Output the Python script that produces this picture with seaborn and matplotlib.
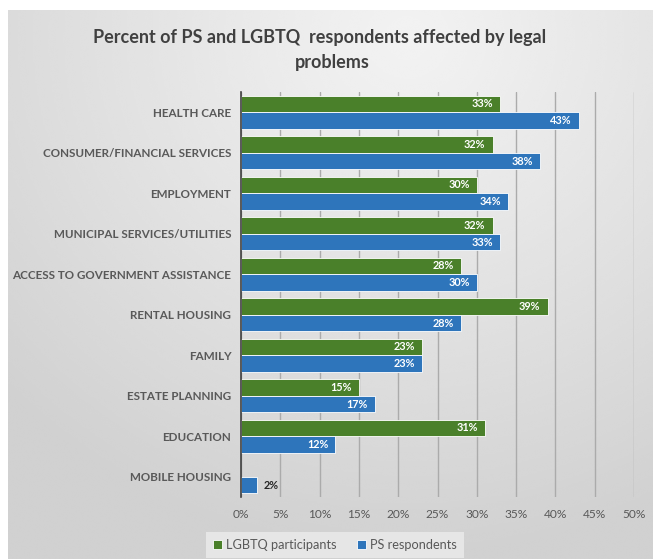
import numpy as np
import pandas as pd
import matplotlib
matplotlib.use("Agg")
import matplotlib.pyplot as plt
import seaborn as sns

# Survey results: share of respondents affected, by problem area
categories = [
    "HEALTH CARE",
    "CONSUMER/FINANCIAL SERVICES",
    "EMPLOYMENT",
    "MUNICIPAL SERVICES/UTILITIES",
    "ACCESS TO GOVERNMENT ASSISTANCE",
    "RENTAL HOUSING",
    "FAMILY",
    "ESTATE PLANNING",
    "EDUCATION",
    "MOBILE HOUSING",
]
lgbtq_pct = [33, 32, 30, 32, 28, 39, 23, 15, 31, None]
ps_pct = [43, 38, 34, 33, 30, 28, 23, 17, 12, 2]
series_names = ["LGBTQ participants", "PS respondents"]
x_ticks = [0, 5, 10, 15, 20, 25, 30, 35, 40, 45, 50]

GREEN = "#4a802a"
BLUE = "#2e75bb"
TEXT = "#595959"

rows = []
for cat, g, b in zip(categories, lgbtq_pct, ps_pct):
    if g is not None:
        rows.append((cat, series_names[0], g))
    if b is not None:
        rows.append((cat, series_names[1], b))
df = pd.DataFrame(rows, columns=["category", "series", "pct"])

sns.set_theme(style="white")
plt.rcParams["font.family"] = ["Lato", "DejaVu Sans"]

W, H = 653, 559
fig = plt.figure(figsize=(W / 100, H / 100), dpi=100)
fig.patch.set_facecolor("white")

# soft grey panel behind the chart
bg = fig.add_axes([8 / W, 0, 1 - 8 / W, 1 - 10 / H], zorder=0)
yy, xx = np.mgrid[0:1:300j, 0:1:300j]
r = np.sqrt(((xx - 0.62) / 1.0) ** 2 + ((yy - 0.05) / 1.1) ** 2)
light = 0.95 - 0.13 * np.clip(r / 0.85, 0, 1) ** 1.1
bg.imshow(light, cmap="gray", vmin=0, vmax=1, aspect="auto",
          extent=[0, 1, 1, 0], interpolation="bicubic")
bg.set_axis_off()

ax = fig.add_axes([241 / W, 1 - 497 / H, (634 - 241) / W, (497 - 92) / H], zorder=1)
ax.set_facecolor("none")

sns.barplot(
    data=df, y="category", x="pct", hue="series",
    order=categories, hue_order=series_names,
    palette=[GREEN, BLUE], saturation=1, orient="h", width=0.82,
    edgecolor="white", linewidth=0.6, ax=ax, legend=True, zorder=3,
)

ax.set_xlim(0, 50)
ax.set_xticks(x_ticks)
ax.set_xticklabels([f"{t}%" for t in x_ticks], fontsize=8.6, color=TEXT)
ax.tick_params(axis="x", length=0, pad=9)
ax.tick_params(axis="y", length=0, pad=7)
for lbl in ax.get_yticklabels():
    lbl.set_fontsize(8.4)
    lbl.set_fontweight("bold")
    lbl.set_color(TEXT)
ax.set_xlabel("")
ax.set_ylabel("")

ax.grid(axis="x", color="#ababab", linewidth=1.0, zorder=0)
ax.set_axisbelow(True)
for side in ["top", "right", "bottom"]:
    ax.spines[side].set_visible(False)
ax.spines["left"].set_color("#404040")
ax.spines["left"].set_linewidth(1.2)
ax.spines["left"].set_zorder(4)

# value labels: white inside the bar end, dark outside for short bars
for cont in ax.containers:
    for bar in cont:
        v = bar.get_width()
        if np.isnan(v):
            continue
        yc = bar.get_y() + bar.get_height() / 2
        if v >= 8:
            ax.text(v - 0.9, yc, f"{v:.0f}%", ha="right", va="center",
                    color="white", fontsize=7.8, fontweight="bold", zorder=5)
        else:
            ax.text(v + 0.9, yc, f"{v:.0f}%", ha="left", va="center",
                    color="#262626", fontsize=7.8, fontweight="bold", zorder=5)

handles, labels = ax.get_legend_handles_labels()
ax.get_legend().remove()
leg = fig.legend(
    handles, labels, loc="center", bbox_to_anchor=(335 / W, 1 - 545 / H),
    ncol=2, frameon=True, fancybox=False, facecolor="#ececec", edgecolor="none",
    fontsize=9.2, handlelength=0.7, handleheight=0.7, handletextpad=0.3,
    columnspacing=1.6, borderpad=0.55,
)
for t in leg.get_texts():
    t.set_color(TEXT)

# two-line title, each line centred on its own
title_kw = dict(ha="center", va="center", fontsize=13, fontweight="bold", color="#404040")
fig.text(320 / W, 1 - 38 / H,
         "Percent of PS and LGBTQ  respondents affected by legal", **title_kw)
fig.text(332 / W, 1 - 62 / H, "problems", **title_kw)

fig.savefig("out.png", dpi=100, facecolor="white")
